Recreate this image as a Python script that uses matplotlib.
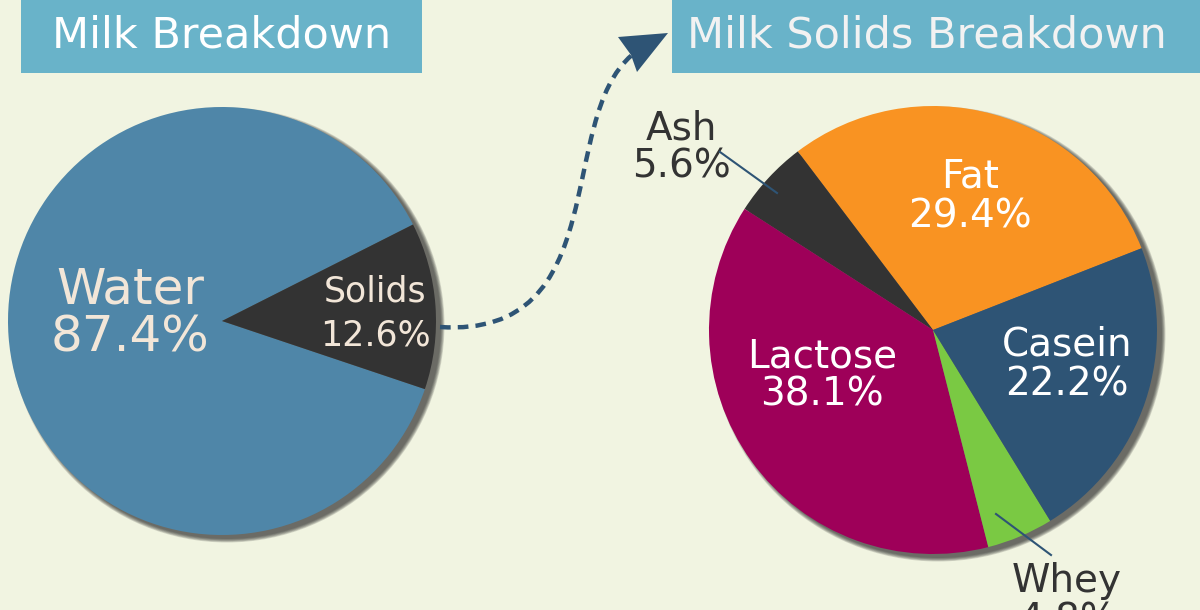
import matplotlib
matplotlib.use("Agg")
import matplotlib.pyplot as plt
from matplotlib.patches import Circle, Rectangle, PathPatch, Polygon
from matplotlib.path import Path

W, H = 1200, 610

milk_labels = ["Water", "Solids"]
milk_values = [87.4, 12.6]
milk_colors = ["#4F86A8", "#333333"]

solids_labels = ["Fat", "Ash", "Lactose", "Whey", "Casein"]
solids_values = [29.4, 5.6, 38.1, 4.8, 22.2]
solids_colors = ["#F99322", "#333333", "#9E0059", "#7AC943", "#2E5475"]

BG = "#F1F4E1"
HEADER = "#69B3C9"
DARK_BLUE = "#2E5475"

plt.rcParams["font.family"] = ["DejaVu Sans"]


def Y(y):
    # image rows -> axis units (y up)
    return H - y


fig = plt.figure(figsize=(12, 6.1), dpi=100, facecolor=BG)
ax = fig.add_axes([0, 0, 1, 1])
ax.set_facecolor(BG)


def shadow(cx, cy, r):
    # soft drop shadow, offset to the lower right
    for i in range(6):
        ax.add_patch(Circle((cx + 5, Y(cy) - 4), r + i * 0.7, color="#262626",
                            alpha=0.16, lw=0, zorder=1))


# left pie
shadow(222, 321, 214)
ax.pie(milk_values, colors=milk_colors, startangle=26.8, counterclock=True,
       center=(222, Y(321)), radius=214, wedgeprops=dict(linewidth=0, zorder=2))

# right pie
shadow(933, 330, 224)
ax.pie(solids_values, colors=solids_colors, startangle=21.4, counterclock=True,
       center=(933, Y(330)), radius=224, wedgeprops=dict(linewidth=0, zorder=2))

ax.set_aspect("auto")
ax.set_xlim(0, W)
ax.set_ylim(0, H)
ax.axis("off")

# headers
ax.add_patch(Rectangle((21, Y(73)), 401, 73, color=HEADER, lw=0, zorder=3))
ax.add_patch(Rectangle((672, Y(73)), 540, 73, color=HEADER, lw=0, zorder=3))
ax.text(222, Y(48), "Milk Breakdown", color="white", fontsize=31,
        ha="center", va="baseline", zorder=4)
ax.text(927, Y(48), "Milk Solids Breakdown", color="#F2F2F2", fontsize=31,
        ha="center", va="baseline", zorder=4)

# labels: (x, name baseline, value baseline, size, color)
left_text = {
    "Water": (130, 303, 352, 36, "#F2E6D8"),
    "Solids": (375, 301, 346, 25, "#F2E6D8"),
}
right_text = {
    "Fat": (970, 188, 228, 28, "white"),
    "Ash": (681, 139, 178, 28, "#333333"),
    "Lactose": (822, 368, 406, 28, "white"),
    "Whey": (1067, 592, 632, 28, "#333333"),
    "Casein": (1067, 355, 395, 28, "white"),
}

for name, val in zip(milk_labels, milk_values):
    x, y1, y2, fs, c = left_text[name]
    ax.text(x, Y(y1), name, fontsize=fs, color=c, ha="center", va="baseline", zorder=5)
    ax.text(x, Y(y2), f"{val:.1f}%", fontsize=fs, color=c, ha="center", va="baseline", zorder=5)

for name, val in zip(solids_labels, solids_values):
    x, y1, y2, fs, c = right_text[name]
    ax.text(x, Y(y1), name, fontsize=fs, color=c, ha="center", va="baseline", zorder=5)
    ax.text(x, Y(y2), f"{val:.1f}%", fontsize=fs, color=c, ha="center", va="baseline", zorder=5)

# leader lines
ax.plot([720, 777], [Y(152), Y(193)], color=DARK_BLUE, lw=1.5, zorder=6)
ax.plot([996, 1051], [Y(514), Y(555)], color=DARK_BLUE, lw=1.5, zorder=6)

# dashed connector arrow
pts = [(440, 327), (615, 338), (555, 120), (632, 55)]
curve = Path([(x, Y(y)) for x, y in pts],
             [Path.MOVETO, Path.CURVE4, Path.CURVE4, Path.CURVE4])
ax.add_patch(PathPatch(curve, fill=False, edgecolor=DARK_BLUE, lw=3.2,
                       linestyle=(0, (2.4, 1.6)), capstyle="butt", zorder=6))
head = [(668, 33), (618, 37), (631, 55), (637, 72)]
ax.add_patch(Polygon([(x, Y(y)) for x, y in head], closed=True,
                     color=DARK_BLUE, lw=0, zorder=6))

fig.savefig("out.png", dpi=100, facecolor=BG)
